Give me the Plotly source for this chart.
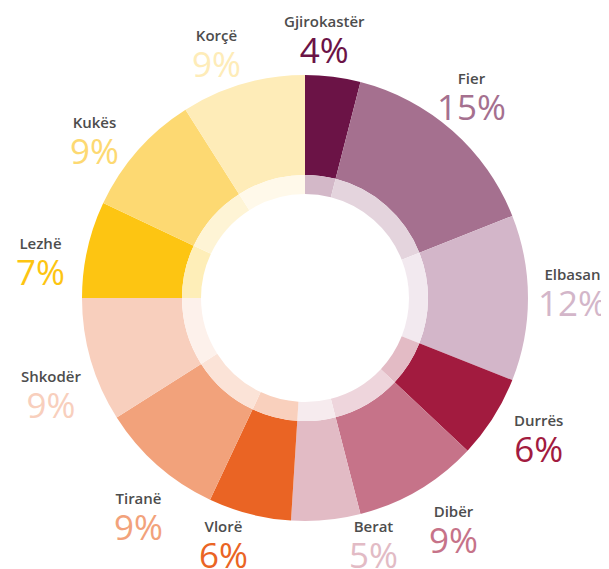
import math
import plotly.graph_objects as go

regions = ["Gjirokastër", "Fier", "Elbasan", "Durrës", "Dibër", "Berat",
           "Vlorë", "Tiranë", "Shkodër", "Lezhë", "Kukës", "Korçë"]
shares = [4, 15, 12, 6, 9, 5, 6, 9, 9, 7, 9, 9]
colors = ["#6b1346", "#a5708f", "#d3b6c9", "#a21b3f", "#c67389", "#e2bbc5",
          "#ea6424", "#f2a27b", "#f8cfbd", "#fdc512", "#fdd972", "#feecb8"]

PAGE_OFF = 8                      # default body margin of the html page
W, H = 609 - PAGE_OFF, 569 - PAGE_OFF
CX, CY, R = 305 - PAGE_OFF, 298 - PAGE_OFF, 223
R_RING, R_HOLE = 123, 104
R_LABEL = 268
ANGLE_SHIFT = -3.0                # labels sit slightly counter-clockwise of slice middle
MAX_BLOCK_Y = 536 - PAGE_OFF      # lowest label block centre
MIN_GAP = 150                     # horizontal spacing of labels on the bottom row
FONT = "Open Sans"


def tint(hexcol, k=0.30):
    h = hexcol.lstrip("#")
    r, g, b = (int(h[i:i + 2], 16) for i in (0, 2, 4))
    mix = lambda c: round(255 - (255 - c) * k)
    return "#%02x%02x%02x" % (mix(r), mix(g), mix(b))


ml = CX - R
mt = CY - R
mr = W - ml - 2 * R
mb = H - mt - 2 * R

fig = go.Figure()
fig.add_trace(go.Pie(
    values=shares, labels=regions, sort=False, direction="clockwise", rotation=0,
    hole=R_RING / R, marker=dict(colors=colors, line=dict(width=0)),
    textinfo="none", hoverinfo="skip", showlegend=False,
    domain=dict(x=[0, 1], y=[0, 1]),
))
f = R_RING / R
fig.add_trace(go.Pie(
    values=shares, labels=regions, sort=False, direction="clockwise", rotation=0,
    hole=R_HOLE / R_RING, marker=dict(colors=[tint(c) for c in colors], line=dict(width=0)),
    textinfo="none", hoverinfo="skip", showlegend=False,
    domain=dict(x=[0.5 - f / 2, 0.5 + f / 2], y=[0.5 - f / 2, 0.5 + f / 2]),
))

total = sum(shares)
cum = 0
pos = []
for v in shares:
    mid = math.radians((cum + v / 2) / total * 360 + ANGLE_SHIFT)
    cum += v
    px = R_LABEL * math.sin(mid)
    py = -R_LABEL * math.cos(mid)
    clamped = False
    if CY + py > MAX_BLOCK_Y:
        py = MAX_BLOCK_Y - CY
        clamped = True
    pos.append([px, py, clamped])

bottom = [i for i, p in enumerate(pos) if p[2]]
bottom.sort(key=lambda i: pos[i][0])
for a, b in zip(bottom, bottom[1:]):
    gap = pos[b][0] - pos[a][0]
    if gap < MIN_GAP:
        push = (MIN_GAP - gap) / 2
        pos[a][0] -= push
        pos[b][0] += push

annotations = []
for (px, py, _), name, v, col in zip(pos, regions, shares, colors):
    pct = f"{round(v / total * 100)}%"
    text = (f"<span style='font-size:15px;font-weight:600;fill:#4d4d4d'>{name}</span>"
            f"<br><span style='font-size:35px;font-weight:500'>{pct}</span>")
    annotations.append(dict(
        x=0.5, y=0.5, xref="paper", yref="paper", xshift=px, yshift=-py - 11,
        text=text, showarrow=False, xanchor="center", yanchor="middle", align="center",
        font=dict(family=FONT, size=28, color=col),
    ))

fig.update_layout(
    width=W, height=H,
    margin=dict(l=ml, r=mr, t=mt, b=mb, pad=0),
    paper_bgcolor="white", plot_bgcolor="white",
    annotations=annotations,
)
fig.write_html("out.html")
